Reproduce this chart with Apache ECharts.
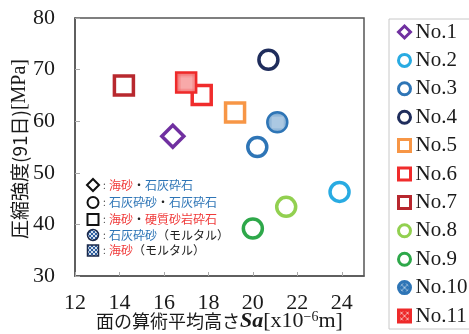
<!DOCTYPE html>
<html>
<head>
<meta charset="utf-8">
<script src="https://cdn.jsdelivr.net/npm/echarts@6/dist/echarts.min.js"></script>
<style>
  html, body { margin: 0; padding: 0; background: #fff; }
  #chart { width: 469px; height: 334px; }
</style>
</head>
<body>
<div id="chart"></div>
<script>
// Specimens and their measurements
const categories = ['No.1', 'No.2', 'No.3', 'No.4', 'No.5', 'No.6', 'No.7', 'No.8', 'No.9', 'No.10', 'No.11'];
const saValues = [16.4, 23.9, 20.2, 20.7, 19.2, 17.7, 14.2, 21.5, 20.0, 21.1, 17.0];      // Sa [x10^-6 m]
const strengthValues = [57.1, 46.3, 55.0, 71.9, 61.7, 65.1, 66.9, 43.4, 39.2, 59.8, 67.5]; // 91-day strength [MPa]

// Axis ranges
const xAxisMin = 12, xAxisMax = 25, xAxisStep = 2;
const yAxisMin = 30, yAxisMax = 80, yAxisStep = 10;

// Marker styling per specimen
const markerShapes = ['diamond', 'circle', 'circle', 'circle', 'rect', 'rect', 'rect', 'circle', 'circle', 'circle', 'rect'];
const markerColors = ['#7030a0', '#29abe2', '#2e75b6', '#1f2d5c', '#f79646', '#f02c2c', '#b8282e', '#92d050', '#2ea84a', '#2e75b6', '#ee2a2a'];
const markerFilled = [false, false, false, false, false, false, false, false, false, true, true];

// Cross-hatched fill used for the mortar specimens
function hatch(bg, fg, n) {
  const c = document.createElement('canvas');
  c.width = n; c.height = n;
  const g = c.getContext('2d');
  g.fillStyle = bg; g.fillRect(0, 0, n, n);
  g.strokeStyle = fg; g.lineWidth = 1;
  g.beginPath();
  g.moveTo(0, 0); g.lineTo(n, n);
  g.moveTo(n, 0); g.lineTo(0, n);
  g.stroke();
  return { image: c, repeat: 'repeat' };
}

const serif = '"Liberation Serif", "Times New Roman", serif';
const cjk = '"Noto Sans CJK JP", sans-serif';

const series = categories.map((name, i) => {
  const filled = markerFilled[i];
  const shape = markerShapes[i];
  let size = shape === 'diamond' ? 22 : 19;
  if (filled) size = 20;
  return {
    name,
    type: 'scatter',
    symbol: shape,
    symbolSize: size,
    data: [[saValues[i], strengthValues[i]]],
    itemStyle: {
      color: filled ? hatch(markerColors[i], 'rgba(255,255,255,0.6)', 6) : '#ffffff',
      borderColor: markerColors[i],
      borderWidth: filled ? 2.5 : 3.5,
      opacity: 1
    },
    emphasis: { disabled: true }
  };
});

// Key for the marker shapes inside the plot area
const keyRows = [
  { y: 185, shape: 'diamond', parts: [['red', '海砂'], ['k', '・'], ['blue', '石灰砕石']] },
  { y: 202.5, shape: 'circle', parts: [['blue', '石灰砕砂'], ['k', '・'], ['blue', '石灰砕石']] },
  { y: 219.5, shape: 'rect', parts: [['red', '海砂'], ['k', '・'], ['red', '硬質砂岩砕石']] },
  { y: 235, shape: 'hcircle', parts: [['blue', '石灰砕砂'], ['k', '（モルタル）']] },
  { y: 250.5, shape: 'hrect', parts: [['red', '海砂'], ['k', '（モルタル）']] }
];
const keyRich = {
  red: { fill: '#f03a3a', fontFamily: cjk, fontSize: 12 },
  blue: { fill: '#2e75b6', fontFamily: cjk, fontSize: 12 },
  k: { fill: '#222', fontFamily: cjk, fontSize: 12 },
  c: { fill: '#444', fontFamily: cjk, fontSize: 10 }
};
const keyGraphics = [];
keyRows.forEach(r => {
  const cx = 93, cy = r.y;
  const stroke = { stroke: '#111', lineWidth: 2, fill: '#fff' };
  const hatchFill = hatch('#2e5fa0', 'rgba(255,255,255,0.8)', 4);
  if (r.shape === 'diamond') {
    keyGraphics.push({ type: 'polygon', shape: { points: [[cx, cy - 6], [cx + 6, cy], [cx, cy + 6], [cx - 6, cy]] }, style: stroke, silent: true });
  } else if (r.shape === 'circle') {
    keyGraphics.push({ type: 'circle', shape: { cx, cy, r: 5.5 }, style: stroke, silent: true });
  } else if (r.shape === 'rect') {
    keyGraphics.push({ type: 'rect', shape: { x: cx - 5.5, y: cy - 5.5, width: 11, height: 11 }, style: stroke, silent: true });
  } else if (r.shape === 'hcircle') {
    keyGraphics.push({ type: 'circle', shape: { cx, cy, r: 5.5 }, style: { stroke: '#1c2a4a', lineWidth: 1.5, fill: hatchFill }, silent: true });
  } else {
    keyGraphics.push({ type: 'rect', shape: { x: cx - 5.5, y: cy - 5.5, width: 11, height: 11 }, style: { stroke: '#1c2a4a', lineWidth: 1.5, fill: hatchFill }, silent: true });
  }
  keyGraphics.push({
    type: 'text', x: 103, y: cy, silent: true,
    style: {
      text: '{c|:} ' + r.parts.map(p => '{' + p[0] + '|' + p[1] + '}').join(''),
      rich: keyRich, verticalAlign: 'middle', align: 'left'
    }
  });
});

// Vertical axis title
keyGraphics.push({
  type: 'text', x: 20, y: 149, rotation: Math.PI / 2, silent: true,
  style: {
    text: '{c|圧縮強度(91日)}{t|[MPa]}',
    align: 'center', verticalAlign: 'middle',
    rich: {
      c: { fontFamily: cjk, fontSize: 19, fill: '#1a1a1a' },
      t: { fontFamily: serif, fontSize: 20, fill: '#1a1a1a' }
    }
  }
});

const chart = echarts.init(document.getElementById('chart'), null, { renderer: 'canvas' });
chart.setOption({
  animation: false,
  backgroundColor: '#ffffff',
  grid: {
    left: 75, right: 105, top: 18, bottom: 58,
    outerBoundsMode: 'none', containLabel: false,
    show: true, borderColor: '#555', borderWidth: 1.5, backgroundColor: 'transparent'
  },
  xAxis: {
    type: 'value', min: xAxisMin, max: xAxisMax, interval: xAxisStep,
    axisLine: { show: true, lineStyle: { color: '#555', width: 1.5 } },
    axisTick: { show: true, inside: true, length: 4, lineStyle: { color: '#aaa' } },
    axisLabel: { showMaxLabel: false, margin: 16, color: '#1a1a1a', fontFamily: serif, fontSize: 22 },
    splitLine: { show: false },
    name: '{c|面の算術平均高さ}{s|Sa}{t|[x10}{p|−6}{t|m]}',
    nameLocation: 'middle', nameGap: 34, nameMoveOverlap: false,
    nameTextStyle: {
      rich: {
        c: { fontFamily: cjk, fontSize: 18, color: '#1a1a1a' },
        s: { fontFamily: serif, fontSize: 22, fontWeight: 'bold', fontStyle: 'italic', color: '#1a1a1a' },
        t: { fontFamily: serif, fontSize: 22, color: '#1a1a1a' },
        p: { fontFamily: serif, fontSize: 14, color: '#1a1a1a', verticalAlign: 'top', padding: [0, 0, 8, 0] }
      }
    }
  },
  yAxis: {
    type: 'value', min: yAxisMin, max: yAxisMax, interval: yAxisStep,
    axisLine: { show: true, lineStyle: { color: '#555', width: 1.5 } },
    axisTick: { show: true, inside: true, length: 5, lineStyle: { color: '#aaa' } },
    axisLabel: { margin: 20, color: '#1a1a1a', fontFamily: serif, fontSize: 22 },
    splitLine: { show: false }
  },
  legend: {
    orient: 'vertical', left: 389, top: 19,
    padding: [2, 6, 2, 8],
    itemWidth: 12, itemHeight: 12, itemGap: 6.4, itemTextGap: 6,
    borderColor: '#c8c8c8', borderWidth: 1,
    itemStyle: { borderWidth: 3 },
    textStyle: { fontFamily: serif, fontSize: 21, color: '#1a1a1a', lineHeight: 22 },
    data: categories
  },
  series,
  graphic: keyGraphics
});
</script>
</body>
</html>
